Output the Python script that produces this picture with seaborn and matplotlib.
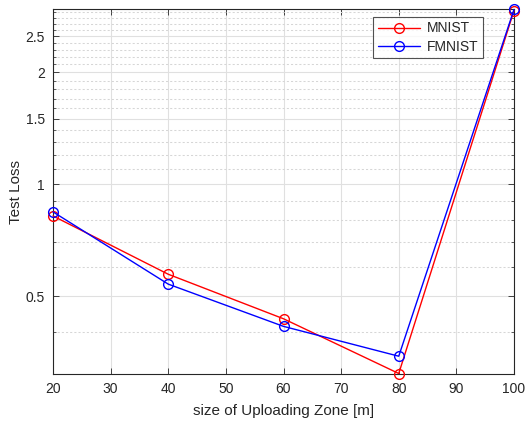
import numpy as np
import pandas as pd
import matplotlib
matplotlib.use("Agg")
import matplotlib.pyplot as plt
import seaborn as sns
from matplotlib.ticker import FixedLocator, NullFormatter

zone_size = [20, 40, 60, 80, 100]
mnist_loss = [0.822, 0.573, 0.435, 0.310, 2.93]
fmnist_loss = [0.843, 0.539, 0.415, 0.345, 2.95]
series_names = ["MNIST", "FMNIST"]
series_colors = ["#ff0000", "#0000ff"]
x_ticks = [20, 30, 40, 50, 60, 70, 80, 90, 100]
y_ticks = [0.5, 1, 1.5, 2, 2.5]
y_tick_labels = ["0.5", "1", "1.5", "2", "2.5"]
y_minor = [round(v, 1) for v in np.arange(0.3, 3.0, 0.1)]

sns.set_style("white")
plt.rcParams["font.family"] = ["Liberation Sans", "DejaVu Sans"]

dark = "#262626"
fig = plt.figure(figsize=(5.27, 4.23), dpi=100)
ax = fig.add_axes([53 / 527, 1 - 373.5 / 423, (514 - 53) / 527, (373.5 - 9.5) / 423])

df = pd.DataFrame({
    "x": zone_size * 2,
    "loss": mnist_loss + fmnist_loss,
    "series": [series_names[0]] * 5 + [series_names[1]] * 5,
})
for name, col in zip(series_names, series_colors):
    sub = df[df["series"] == name]
    sns.lineplot(data=sub, x="x", y="loss", ax=ax, color=col, lw=1.0,
                 marker="o", markersize=7, markerfacecolor="none",
                 markeredgecolor=col, markeredgewidth=1.0, label=name,
                 clip_on=False, zorder=3)

ax.set_yscale("log")
ax.set_xlim(20, 100)
ax.set_ylim(min(mnist_loss + fmnist_loss), max(mnist_loss + fmnist_loss))
ax.set_xticks(x_ticks)
ax.set_xticklabels([str(v) for v in x_ticks])
ax.yaxis.set_major_locator(FixedLocator(y_ticks))
ax.set_yticklabels(y_tick_labels)
ax.yaxis.set_minor_locator(FixedLocator([v for v in y_minor if v not in y_ticks]))
ax.yaxis.set_minor_formatter(NullFormatter())

ax.grid(True, which="major", color="#e0e0e0", lw=0.8, ls="-")
ax.grid(True, which="minor", axis="y", color="#d6d6d6", lw=0.75, ls=(0, (2, 2)))
ax.set_axisbelow(True)

for s in ax.spines.values():
    s.set_color(dark)
    s.set_linewidth(0.8)
ax.tick_params(which="major", direction="in", length=4, width=0.6, colors=dark,
               labelcolor=dark, labelsize=10, top=True, right=True, left=True, bottom=True, pad=6)
ax.tick_params(which="minor", direction="in", length=2.5, width=0.5, colors=dark,
               left=True, right=True)

ax.set_xlabel("size of Uploading Zone [m]", fontsize=11, color=dark, labelpad=6)
ax.set_ylabel("Test Loss", fontsize=11, color=dark, labelpad=2)

leg = ax.legend(loc="upper right", bbox_to_anchor=(0.9328, 0.9807), borderaxespad=0,
                fancybox=False, frameon=True, edgecolor=dark, fontsize=10,
                handlelength=3.0, numpoints=1, borderpad=0.35, labelspacing=0.3,
                handletextpad=0.5)
leg.get_frame().set_linewidth(0.8)
for t in leg.get_texts():
    t.set_color(dark)

fig.savefig("out.png", dpi=100, facecolor="white")
